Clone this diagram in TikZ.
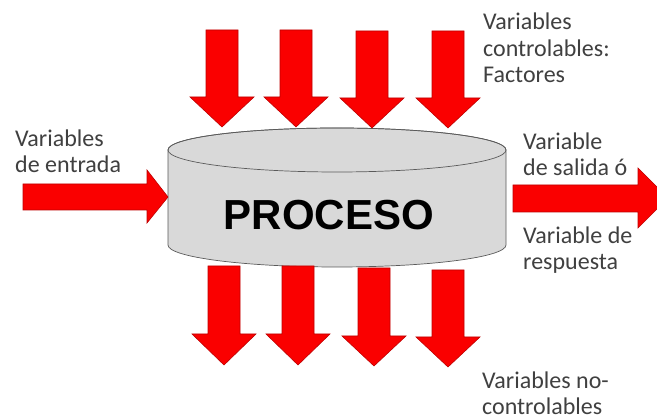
\documentclass[tikz,border=0pt]{standalone}
\usepackage{fontspec}
\newfontfamily\lblfont{Carlito}
\newfontfamily\procfont{Liberation Sans}
\definecolor{arrowred}{RGB}{250,0,0}
\definecolor{arrowedge}{RGB}{190,0,0}
\definecolor{cylgray}{RGB}{217,217,217}
\definecolor{cyledge}{RGB}{90,90,90}
\definecolor{lblgray}{RGB}{64,64,64}
\tikzset{
  blockarrow/.style={fill=arrowred,draw=arrowedge,line width=0.6pt,line join=miter},
  lbl/.style={anchor=base west,align=left,inner sep=0pt,text=lblgray,
    font=\lblfont\fontsize{24}{26.5}\selectfont},
}
% down arrow: centre x, top y, head y, tip y
\newcommand\downblock[4]{%
  \filldraw[blockarrow] (#1-16,#2) -- (#1+16,#2) -- (#1+16,#3) -- (#1+32,#3)
    -- (#1,#4) -- (#1-32,#3) -- (#1-16,#3) -- cycle;}
\begin{document}
\begin{tikzpicture}[x=1pt,y=1pt]
  \clip (0,0) rectangle (657,419);
  \fill[white] (0,0) rectangle (657,419);
  % cylinder
  \filldraw[fill=cylgray,draw=cyledge,line width=0.7pt]
    (168,269) -- (168,174) arc[start angle=180,end angle=360,x radius=169,y radius=22]
    -- (506,269) arc[start angle=0,end angle=180,x radius=169,y radius=22] -- cycle;
  \draw[cyledge,line width=0.7pt] (337,269) ellipse[x radius=169,y radius=22];
  \node[anchor=base,inner sep=0pt,font=\procfont\bfseries\fontsize{42}{42}\selectfont]
    (proc) at (329,189) {PROCESO};
  % controllable factors
  \downblock{222}{389}{322}{292}
  \downblock{296}{389}{322}{292}
  \downblock{372}{388}{321}{291}
  \downblock{448}{388}{321}{291}
  % non-controllable
  \downblock{224}{153}{85}{54}
  \downblock{298}{153}{85}{54}
  \downblock{374}{151}{83}{53}
  \downblock{448}{149}{82}{52}
  % input / output
  \filldraw[blockarrow] (23,235) -- (147,235) -- (147,249) -- (168,222)
    -- (147,196) -- (147,209) -- (23,209) -- cycle;
  \filldraw[blockarrow] (513,234) -- (638,234) -- (638,251) -- (668,221)
    -- (638,191) -- (638,207) -- (513,207) -- cycle;
  % labels (anchored on the last line)
  \node[lbl] (inp) at (15,246) {Variables\\de entrada};
  \node[lbl] (ctl) at (483,336) {Variables\\controlables:\\Factores};
  \node[lbl] (outa) at (523,243) {Variable\\de salida ó};
  \node[lbl] (outb) at (523,149) {Variable de\\respuesta};
  \node[lbl] (nctl) at (482,4) {Variables no-\\controlables};
\end{tikzpicture}
\end{document}
